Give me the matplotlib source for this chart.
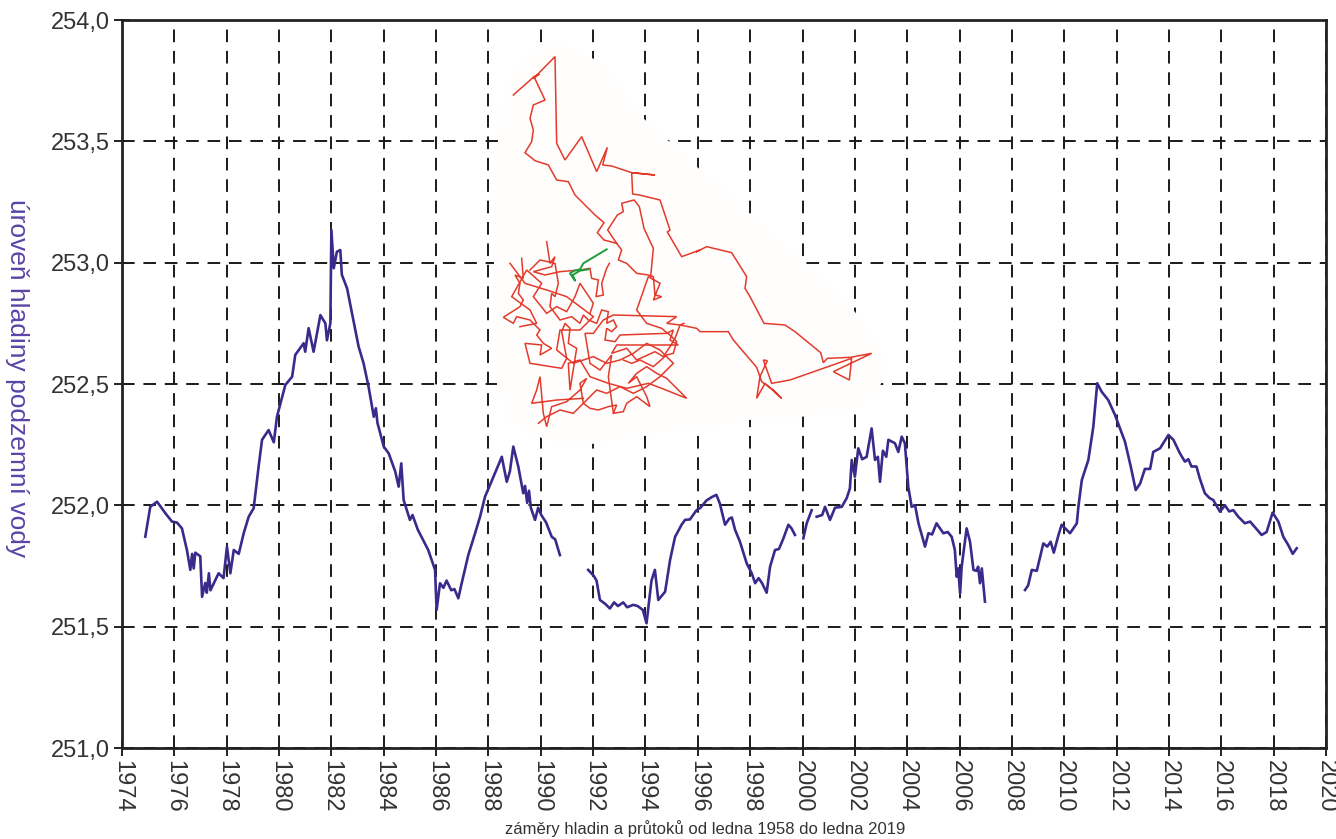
import numpy as np
import matplotlib
matplotlib.use("Agg")
import matplotlib.pyplot as plt
from matplotlib.patches import Polygon
from matplotlib.ticker import FuncFormatter

plt.rcParams['font.family'] = ['Liberation Sans', 'DejaVu Sans']

# ---- groundwater level record (m a.s.l.), split where the record has gaps ----
years_a = [1974.89, 1975.08, 1975.34, 1975.66, 1975.91, 1976.10, 1976.29, 1976.48, 1976.61, 1976.68,
           1976.74, 1976.80, 1976.99, 1977.06, 1977.18, 1977.24, 1977.32, 1977.38, 1977.69, 1977.88,
           1978.01, 1978.14, 1978.27, 1978.46, 1978.65, 1978.84, 1979.03, 1979.22, 1979.35, 1979.60,
           1979.80, 1979.92, 1980.24, 1980.50, 1980.62, 1980.94, 1981.00, 1981.13, 1981.32, 1981.58,
           1981.77, 1981.83, 1981.96, 1982.00, 1982.09, 1982.21, 1982.34, 1982.40, 1982.60, 1982.79,
           1983.04, 1983.23, 1983.42, 1983.62, 1983.70, 1983.76, 1984.00, 1984.19, 1984.44, 1984.57,
           1984.67, 1984.76, 1985.00, 1985.10, 1985.30, 1985.70, 1985.96, 1986.02, 1986.15, 1986.28,
           1986.40, 1986.58, 1986.70, 1986.85, 1986.98, 1987.23, 1987.49, 1987.68, 1987.87, 1988.06,
           1988.38, 1988.51, 1988.70, 1988.82, 1988.95, 1989.14, 1989.33, 1989.40, 1989.48, 1989.55,
           1989.62, 1989.78, 1989.90, 1990.02, 1990.20, 1990.42, 1990.55, 1990.73]
level_a = [251.871, 251.994, 252.015, 251.967, 251.933, 251.929, 251.905, 251.816, 251.734, 251.800,
           251.740, 251.805, 251.790, 251.623, 251.680, 251.640, 251.720, 251.650, 251.720, 251.700,
           251.830, 251.720, 251.816, 251.800, 251.885, 251.953, 251.988, 252.160, 252.270, 252.310,
           252.260, 252.365, 252.496, 252.530, 252.620, 252.668, 252.633, 252.730, 252.633, 252.784,
           252.750, 252.680, 252.750, 253.135, 252.977, 253.045, 253.052, 252.950, 252.894, 252.790,
           252.654, 252.585, 252.489, 252.365, 252.400, 252.340, 252.242, 252.214, 252.139, 252.077,
           252.173, 252.022, 251.940, 251.960, 251.900, 251.816, 251.734, 251.569, 251.679, 251.660,
           251.690, 251.650, 251.655, 251.617, 251.680, 251.795, 251.885, 251.953, 252.036, 252.084,
           252.166, 252.200, 252.097, 252.140, 252.242, 252.160, 252.050, 252.080, 252.010, 252.060,
           251.990, 251.940, 251.990, 251.960, 251.930, 251.870, 251.860, 251.795]

years_b = [1991.81, 1992.02, 1992.13, 1992.26, 1992.45, 1992.64, 1992.80, 1992.95, 1993.15, 1993.30,
           1993.53, 1993.70, 1993.90, 1994.04, 1994.23, 1994.36, 1994.49, 1994.75, 1994.94, 1995.13,
           1995.38, 1995.51, 1995.70, 1995.95, 1996.10, 1996.33, 1996.55, 1996.71, 1996.84, 1997.04,
           1997.20, 1997.30, 1997.42, 1997.61, 1997.87, 1998.06, 1998.19, 1998.32, 1998.45, 1998.63,
           1998.76, 1998.95, 1999.10, 1999.27, 1999.46, 1999.58, 1999.71]
level_b = [251.734, 251.710, 251.690, 251.610, 251.595, 251.575, 251.600, 251.585, 251.600, 251.580,
           251.590, 251.585, 251.569, 251.514, 251.690, 251.734, 251.610, 251.644, 251.775, 251.870,
           251.920, 251.940, 251.942, 251.980, 251.990, 252.020, 252.035, 252.043, 252.008, 251.920,
           251.945, 251.950, 251.900, 251.850, 251.760, 251.720, 251.679, 251.700, 251.680, 251.640,
           251.747, 251.816, 251.820, 251.864, 251.920, 251.905, 251.878]

years_c = [2000.03, 2000.16, 2000.35]
level_c = [251.864, 251.926, 251.980]

years_d = [2000.54, 2000.75, 2000.86, 2001.05, 2001.24, 2001.50, 2001.69, 2001.81, 2001.88, 2002.00,
           2002.13, 2002.28, 2002.45, 2002.64, 2002.77, 2002.88, 2002.96, 2003.07, 2003.20, 2003.28,
           2003.53, 2003.66, 2003.79, 2003.91, 2004.04, 2004.17, 2004.30, 2004.43, 2004.68, 2004.81,
           2004.95, 2005.12, 2005.38, 2005.55, 2005.70, 2005.82, 2005.89, 2005.95, 2006.02, 2006.08,
           2006.27, 2006.40, 2006.53, 2006.64, 2006.71, 2006.78, 2006.85, 2006.97]
level_d = [251.953, 251.960, 251.994, 251.940, 251.990, 251.994, 252.030, 252.070, 252.187, 252.118,
           252.235, 252.190, 252.200, 252.317, 252.187, 252.200, 252.097, 252.225, 252.200, 252.270,
           252.256, 252.220, 252.283, 252.256, 252.077, 251.994, 252.000, 251.926, 251.830, 251.885,
           251.880, 251.926, 251.885, 251.890, 251.870, 251.816, 251.706, 251.740, 251.637, 251.747,
           251.905, 251.850, 251.734, 251.730, 251.747, 251.679, 251.740, 251.603]

years_e = [2008.50, 2008.62, 2008.76, 2008.95, 2009.20, 2009.35, 2009.48, 2009.60, 2009.78, 2009.90,
           2010.22, 2010.48, 2010.54, 2010.67, 2010.92, 2011.11, 2011.26, 2011.43, 2011.68, 2011.94,
           2012.32, 2012.54, 2012.73, 2012.90, 2013.08, 2013.28, 2013.40, 2013.66, 2013.98, 2014.17,
           2014.42, 2014.61, 2014.74, 2014.86, 2015.05, 2015.18, 2015.37, 2015.55, 2015.69, 2015.95,
           2016.14, 2016.30, 2016.46, 2016.65, 2016.90, 2017.10, 2017.54, 2017.73, 2017.96, 2018.18,
           2018.37, 2018.56, 2018.73, 2018.88]
level_e = [251.651, 251.670, 251.734, 251.730, 251.843, 251.830, 251.850, 251.805, 251.878, 251.920,
           251.885, 251.926, 251.994, 252.104, 252.187, 252.324, 252.503, 252.468, 252.434, 252.372,
           252.262, 252.160, 252.063, 252.090, 252.150, 252.150, 252.220, 252.235, 252.290, 252.270,
           252.214, 252.180, 252.190, 252.160, 252.160, 252.110, 252.050, 252.030, 252.022, 251.974,
           252.000, 251.975, 251.980, 251.953, 251.926, 251.933, 251.878, 251.890, 251.970, 251.933,
           251.870, 251.836, 251.800, 251.823]

segments = [(years_a, level_a), (years_b, level_b), (years_c, level_c),
            (years_d, level_d), (years_e, level_e)]

year_ticks = list(range(1974, 2021, 2))
level_ticks = [251.0, 251.5, 252.0, 252.5, 253.0, 253.5, 254.0]

# ---- locality sketch: watercourse traces in sketch units (0..1260, y downwards) ----
river_main = [(100, 195), (162, 140), (178, 132), (160, 146), (225, 80), (230, 340), (255, 390),
              (305, 320), (350, 425), (382, 352), (368, 405), (395, 408), (455, 428), (525, 435),
              (455, 428), (458, 492), (478, 495), (540, 510), (570, 600), (562, 606), (605, 680),
              (660, 660), (648, 666), (680, 650), (755, 668), (800, 740), (795, 775), (810, 800),
              (852, 880), (915, 885), (945, 905), (1022, 968), (1030, 998), (1042, 985), (1112, 982),
              (1175, 970), (1060, 1025), (1108, 1050), (1115, 985), (930, 1050), (875, 1060),
              (850, 990), (862, 992), (840, 1040), (830, 1105), (855, 1060), (905, 1105),
              (880, 1080), (845, 1055), (830, 1012), (760, 930), (745, 905), (660, 905),
              (650, 895), (600, 885), (612, 880)]
river_left = [(162, 140), (195, 210), (160, 225), (150, 265), (160, 300), (155, 335), (135, 368),
              (165, 392), (205, 405), (230, 450), (265, 455), (285, 495), (345, 555), (372, 578),
              (352, 608), (372, 630), (410, 640)]
river_mid = [(410, 640), (383, 600), (412, 555), (430, 545), (425, 520), (462, 510), (478, 530),
             (492, 595), (520, 655), (512, 740)]
tangle_1 = [(125, 685), (130, 745), (105, 735), (120, 760), (115, 790), (130, 810), (120, 830),
            (70, 862), (100, 880), (110, 860), (150, 870), (180, 900), (170, 915), (190, 940),
            (215, 955), (180, 975), (185, 945), (135, 940), (150, 1000), (245, 1015), (260, 985),
            (245, 905), (255, 880), (270, 895), (265, 940), (290, 955), (270, 1080), (265, 1000),
            (300, 990), (330, 1040), (385, 1060), (440, 1075), (505, 1060), (545, 1075),
            (620, 1105), (560, 1045), (530, 1030), (500, 1010), (470, 1030), (445, 1060),
            (470, 1040), (500, 1100), (510, 1130), (470, 1100), (440, 1120), (430, 1145),
            (400, 1150), (410, 1125), (385, 1130), (355, 1140), (330, 1135), (310, 1120),
            (300, 1060), (320, 1045), (300, 1080), (260, 1115), (215, 1130), (200, 1190),
            (190, 1150), (180, 1040), (170, 1080), (155, 1120), (230, 1110), (310, 1105)]
tangle_2 = [(200, 635), (210, 700), (225, 680), (215, 710), (160, 725), (195, 735), (240, 725),
            (300, 720), (330, 715), (335, 745), (355, 750), (348, 800), (370, 795), (365, 760),
            (380, 715), (388, 700)]
tangle_3 = [(150, 720), (180, 690), (225, 700), (235, 760), (225, 800), (215, 790), (210, 830),
            (240, 870), (275, 860), (300, 880), (310, 855), (325, 870), (350, 880), (365, 840),
            (385, 845), (380, 880), (400, 870), (410, 890), (395, 905), (380, 895), (375, 930),
            (405, 935), (420, 915), (560, 910), (580, 900), (570, 930), (595, 945), (410, 945),
            (395, 970), (440, 955), (470, 990), (525, 965), (550, 980), (570, 950), (585, 925),
            (600, 885), (560, 880), (590, 860), (400, 855), (370, 870), (340, 910), (315, 910),
            (330, 1000), (360, 1020), (395, 975), (385, 1040), (400, 1150)]
tangle_4 = [(410, 640), (425, 660), (415, 690), (440, 700), (470, 730), (505, 735), (520, 740),
            (525, 795), (545, 800), (520, 810), (540, 760), (505, 740), (470, 840), (500, 880),
            (545, 895), (575, 920), (590, 935), (580, 970), (560, 975), (520, 1010), (480, 990),
            (455, 1000), (430, 990)]
tangle_5 = [(90, 700), (135, 760), (200, 780), (260, 800), (300, 830), (340, 860), (300, 900),
            (240, 900), (230, 960), (280, 1000), (340, 980), (380, 1000), (420, 990), (460, 970),
            (500, 940), (540, 960), (580, 1000), (540, 1040), (500, 1070), (460, 1090),
            (420, 1070), (380, 1090), (350, 1080), (320, 1110), (280, 1150), (240, 1140),
            (200, 1160), (175, 1180)]
tangle_6 = [(120, 890), (170, 880), (150, 840), (95, 800), (140, 720), (185, 760), (160, 800),
            (200, 850), (230, 830), (260, 845), (285, 800), (300, 760), (320, 790), (340, 820),
            (330, 850)]
stream_green = [(380, 658), (335, 685), (310, 700), (300, 718), (283, 722), (270, 730),
                (285, 752), (278, 735), (300, 722), (325, 718)]
sketch_outline = [(225, 30), (360, 96), (489, 264), (648, 408), (810, 555), (966, 696),
                  (1125, 846), (1194, 945), (1218, 1026), (1188, 1095), (1116, 1140), (960, 1161),
                  (804, 1170), (648, 1194), (492, 1212), (336, 1242), (195, 1230), (90, 1170),
                  (51, 1065), (42, 810), (42, 510), (60, 240), (105, 120), (165, 54)]

W, H = 1336, 839
fig = plt.figure(figsize=(W / 100, H / 100), dpi=100)
ax = fig.add_axes([122 / W, 1 - 748 / H, (1326 - 122) / W, (748 - 20) / H])

line_color = '#3a2a8c'
for yrs, lv in segments:
    ax.plot(yrs, lv, color=line_color, lw=1.9, solid_joinstyle='round', zorder=3)

ax.set_xlim(1974, 2020)
ax.set_ylim(251.0, 254.0)
ax.set_xticks(year_ticks)
ax.set_yticks(level_ticks)
ax.xaxis.set_major_formatter(FuncFormatter(lambda v, p: f"{int(round(v))}"))
ax.yaxis.set_major_formatter(FuncFormatter(lambda v, p: f"{v:.1f}".replace('.', ',')))
ax.grid(True, color='#1a1a1a', lw=1.4, linestyle=(0, (6.5, 4.5)), zorder=1)
ax.tick_params(direction='inout', length=12, width=1.4, colors='#222222',
               labelsize=17, labelcolor='#333333', pad=3)
ax.tick_params(axis='x', labelrotation=-90)
for s in ax.spines.values():
    s.set_linewidth(2.0)
    s.set_color('#222222')

fig.text(17 / W, 1 - 378 / H, 'úroveň hladiny podzemní vody', rotation=-90,
         ha='center', va='center', fontsize=19, color='#5b44a6')
fig.text(705 / W, 1 - 829 / H, 'záměry hladin a průtoků od ledna 1958 do ledna 2019',
         ha='center', va='center', fontsize=12, color='#333333')

# locality sketch drawn over the chart area
ins = fig.add_axes([480 / W, 1 - 450 / H, 420 / W, 420 / H], zorder=5)
ins.set_xlim(0, 1260)
ins.set_ylim(1260, 0)
ins.axis('off')
ins.patch.set_alpha(0)
ins.add_patch(Polygon(sketch_outline, closed=True, facecolor='#fffefc', edgecolor='none'))
for trace in (river_main, river_left, river_mid, tangle_1, tangle_2, tangle_3, tangle_4,
              tangle_5, tangle_6):
    arr = np.array(trace)
    ins.plot(arr[:, 0], arr[:, 1], color='#e43a2c', lw=1.1, solid_joinstyle='miter')
g = np.array(stream_green)
ins.plot(g[:, 0], g[:, 1], color='#1f9a3e', lw=1.4)

fig.savefig('out.png', dpi=100)
